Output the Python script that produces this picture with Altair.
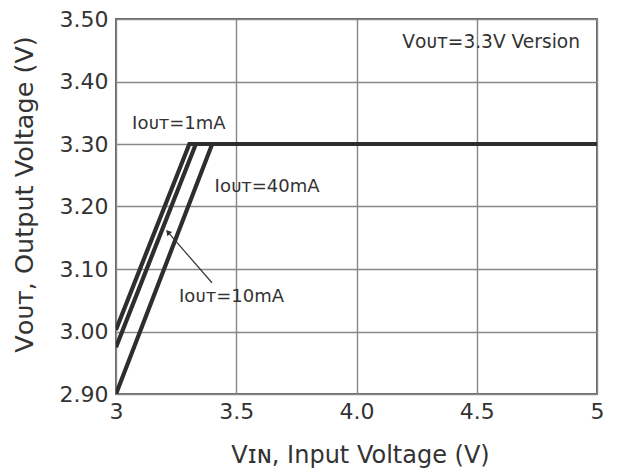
import altair as alt
import pandas as pd

# Curve data (VIN, VOUT) per load current
vin_1 = [3.0, 3.305, 5.0]
vout_1 = [3.003, 3.30, 3.30]
vin_10 = [3.0, 3.332, 5.0]
vout_10 = [2.975, 3.30, 3.30]
vin_40 = [3.0, 3.40, 5.0]
vout_40 = [2.90, 3.30, 3.30]
series = ["1mA", "10mA", "40mA"]

x_ticks = [3.0, 3.5, 4.0, 4.5, 5.0]
y_ticks = [2.9, 3.0, 3.1, 3.2, 3.3, 3.4, 3.5]

# annotations (data coords)
ann_text = ["Iᴏᴜᴛ=1mA", "Iᴏᴜᴛ=40mA", "Iᴏᴜᴛ=10mA", "Vᴏᴜᴛ=3.3V Version"]
ann_x = [3.067, 3.41, 3.262, 4.19]
ann_y = [3.324, 3.223, 3.047, 3.454]
ann_size = [18, 18, 18, 18.6]

arrow_x = [3.216]
arrow_y = [3.159]
arrow_x2 = [3.399]
arrow_y2 = [3.078]

rows = []
for name, xs, ys in zip(series, [vin_1, vin_10, vin_40], [vout_1, vout_10, vout_40]):
    for i, (a, b) in enumerate(zip(xs, ys)):
        rows.append({"s": name, "vin": a, "vout": b, "o": i})
df = pd.DataFrame(rows)

FONT = "DejaVu Sans"
TXT = "#333333"

xs = alt.Scale(domain=[3, 5], nice=False, zero=False)
ys = alt.Scale(domain=[2.9, 3.5], nice=False, zero=False)

x_axis = alt.Axis(
    values=x_ticks,
    labelExpr="datum.value == 3 ? '3' : datum.value == 5 ? '5' : format(datum.value, '.1f')",
    title="Vɪɴ, Input Voltage (V)",
    titleX=244, titleY=61, titleBaseline="middle", titleAnchor="middle",
    labelPadding=7, labelFlush=False, labelOverlap=False,
    ticks=False, domain=False,
    grid=True,
)
y_axis = alt.Axis(
    values=y_ticks,
    format=".2f",
    title="Vᴏᴜᴛ, Output Voltage (V)",
    titleX=-92, titleY=175, titleBaseline="middle", titleAngle=-90,
    titleFontSize=25.5,
    labelPadding=8, labelFlush=False, labelOverlap=False,
    ticks=False, domain=False,
    grid=True,
)

lines = alt.Chart(df).mark_line(color="#2e2e2e", strokeWidth=4.2, clip=True, strokeJoin="miter").encode(
    x=alt.X("vin:Q", scale=xs, axis=x_axis),
    y=alt.Y("vout:Q", scale=ys, axis=y_axis),
    detail="s:N",
    order="o:Q",
)

ann_df = pd.DataFrame({"t": ann_text, "x": ann_x, "y": ann_y, "fs": ann_size})
ann = alt.Chart(ann_df).mark_text(
    align="left", baseline="alphabetic", font=FONT, color=TXT
).encode(
    x=alt.X("x:Q", scale=xs), y=alt.Y("y:Q", scale=ys), text="t:N",
    size=alt.Size("fs:Q", scale=None, legend=None),
)

arr_df = pd.DataFrame({"x": arrow_x, "y": arrow_y, "x2": arrow_x2, "y2": arrow_y2})
arrow = alt.Chart(arr_df).mark_rule(color="#333333", strokeWidth=1.2).encode(
    x=alt.X("x:Q", scale=xs), y=alt.Y("y:Q", scale=ys), x2="x2:Q", y2="y2:Q"
)
head = alt.Chart(arr_df).mark_point(
    shape="triangle-up", filled=True, color="#333333", size=40, angle=319, opacity=1
).encode(x=alt.X("x:Q", scale=xs), y=alt.Y("y:Q", scale=ys))

chart = alt.layer(lines, arrow, head, ann).properties(
    width=481, height=375,
    autosize=alt.AutoSizeParams(type="none"),
    padding={"left": 108, "top": 11, "right": 20, "bottom": 80},
    background="white",
).configure_view(
    stroke="#666666", strokeWidth=2
).configure_axis(
    labelFont=FONT, labelFontSize=22, labelColor=TXT,
    titleFont=FONT, titleFontSize=24, titleColor=TXT, titleFontWeight="normal",
    gridColor="#878787", gridWidth=1.4, gridOpacity=1,
)

chart.save("out.html", embed_options={"renderer": "svg", "actions": False})
